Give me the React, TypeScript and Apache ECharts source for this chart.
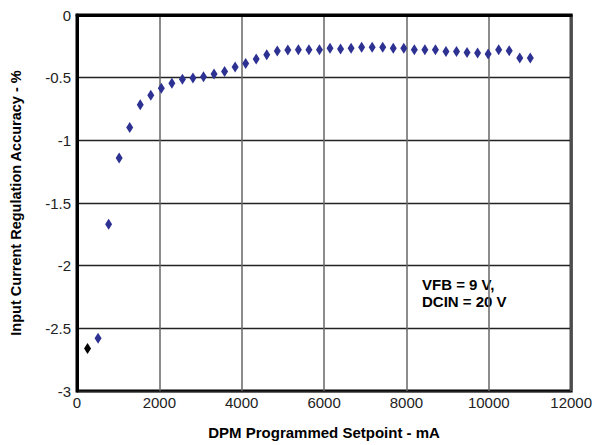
import React, { useEffect, useRef } from "react";
import * as echarts from "echarts";

const xValues = [
  256, 512, 768, 1024, 1280, 1536, 1792, 2048, 2304, 2560, 2816, 3072, 3328, 3584,
  3840, 4096, 4352, 4608, 4864, 5120, 5376, 5632, 5888, 6144, 6400, 6656, 6912,
  7168, 7424, 7680, 7936, 8192, 8448, 8704, 8960, 9216, 9472, 9728, 9984, 10240,
  10496, 10752, 11008,
];
const accuracy = [
  -2.66, -2.58, -1.67, -1.14, -0.897, -0.717, -0.64, -0.585, -0.545, -0.513, -0.503,
  -0.492, -0.471, -0.45, -0.415, -0.386, -0.352, -0.317, -0.288, -0.28, -0.278, -0.278,
  -0.278, -0.265, -0.272, -0.265, -0.257, -0.257, -0.257, -0.265, -0.265, -0.278,
  -0.278, -0.278, -0.291, -0.291, -0.299, -0.304, -0.312, -0.278, -0.286, -0.344, -0.344,
];
const xTicks = { min: 0, max: 12000, interval: 2000 };
const yTicks = { min: -3, max: 0, interval: 0.5 };
const noteLines = ["VFB = 9 V,", "DCIN = 20 V"];
const xName = "DPM Programmed Setpoint - mA";
const yName = "Input Current Regulation Accuracy - %";

export default function App() {
  const ref = useRef<HTMLDivElement>(null);
  useEffect(() => {
    if (!ref.current) return;
    const chart = echarts.init(ref.current, undefined, { renderer: "svg" });
    const font = "Liberation Sans, Arial, sans-serif";
    const pts = xValues.map((x, i) => [x, accuracy[i]]);
    chart.setOption({
      animation: false,
      backgroundColor: "#fff",
      grid: {
        left: 72,
        right: 22,
        top: 15,
        bottom: 48,
        show: true,
        borderColor: "#000",
        borderWidth: 3,
      },
      xAxis: {
        type: "value",
        ...xTicks,
        name: xName,
        nameLocation: "middle",
        nameGap: 34,
        nameTextStyle: { fontFamily: font, fontSize: 15, fontWeight: "bold", color: "#000" },
        axisLine: { show: true, lineStyle: { color: "#000", width: 3 } },
        axisTick: { show: false },
        axisLabel: {
          fontFamily: font,
          fontSize: 15,
          color: "#222",
          margin: 4,
          formatter: (v: number) => String(v),
        },
        splitLine: { show: true, lineStyle: { color: "#666", width: 1.5 } },
      },
      yAxis: {
        type: "value",
        ...yTicks,
        name: yName,
        nameLocation: "middle",
        nameGap: 54,
        nameTextStyle: { fontFamily: font, fontSize: 14.5, fontWeight: "bold", color: "#000" },
        axisLine: { show: true, lineStyle: { color: "#000", width: 3 } },
        axisTick: { show: false },
        axisLabel: { fontFamily: font, fontSize: 15, color: "#222", margin: 6 },
        splitLine: { show: true, lineStyle: { color: "#222", width: 1.3 } },
      },
      series: [
        {
          type: "scatter",
          data: pts.slice(1),
          symbol: "diamond",
          symbolSize: [7, 11],
          itemStyle: { color: "#2d3192", opacity: 1 },
        },
        {
          type: "scatter",
          data: pts.slice(0, 1),
          symbol: "diamond",
          symbolSize: [7, 11],
          itemStyle: { color: "#000", opacity: 1 },
        },
      ],
      graphic: [
        {
          type: "text",
          left: 422,
          top: 276,
          style: {
            text: noteLines.join("\n"),
            fontFamily: font,
            fontSize: 15,
            fontWeight: "bold",
            fill: "#000",
            lineHeight: 17,
          },
        },
      ],
    });
    return () => chart.dispose();
  }, []);
  return (
    <div
      ref={ref}
      style={{ position: "fixed", left: 0, top: 0, width: 595, height: 445 }}
    />
  );
}
